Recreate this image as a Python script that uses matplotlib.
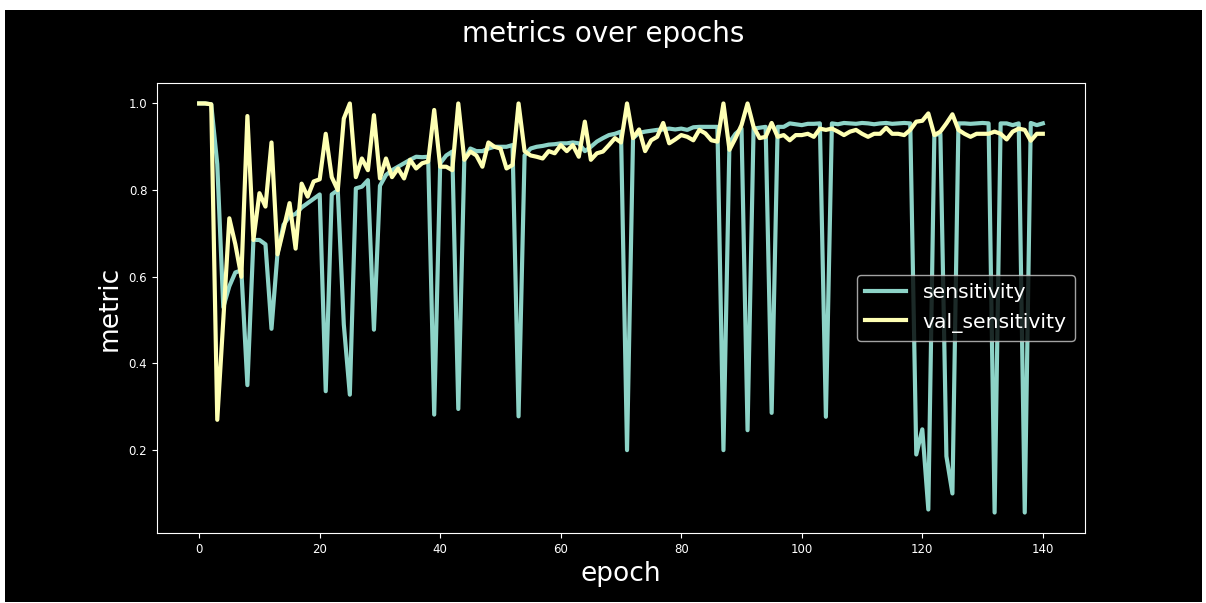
import matplotlib

matplotlib.use("Agg")
import matplotlib.pyplot as plt
from matplotlib.patches import Rectangle

# per-epoch metrics
epochs = list(range(141))

sensitivity = [
    1.0, 1.0, 0.998, 0.86, 0.53, 0.578, 0.61, 0.615, 0.35, 0.685,
    0.685, 0.675, 0.48, 0.655, 0.72, 0.74, 0.745, 0.76, 0.77, 0.78,
    0.79, 0.336, 0.79, 0.80, 0.49, 0.328, 0.804, 0.808, 0.823, 0.478,
    0.81, 0.835, 0.846, 0.854, 0.862, 0.87, 0.877, 0.876, 0.877, 0.282,
    0.862, 0.88, 0.889, 0.295, 0.87, 0.896, 0.89, 0.89, 0.896, 0.90,
    0.90, 0.90, 0.904, 0.278, 0.88, 0.896, 0.90, 0.902, 0.905, 0.906,
    0.908, 0.908, 0.91, 0.908, 0.89, 0.90, 0.912, 0.92, 0.927, 0.93,
    0.935, 0.20, 0.92, 0.932, 0.935, 0.937, 0.939, 0.94, 0.942, 0.94,
    0.942, 0.939, 0.945, 0.946, 0.946, 0.946, 0.946, 0.20, 0.91, 0.93,
    0.942, 0.246, 0.942, 0.944, 0.946, 0.286, 0.946, 0.946, 0.954, 0.952,
    0.95, 0.953, 0.953, 0.954, 0.277, 0.954, 0.952, 0.955, 0.954, 0.953,
    0.955, 0.954, 0.952, 0.954, 0.955, 0.953, 0.954, 0.955, 0.954, 0.19,
    0.248, 0.063, 0.927, 0.93, 0.186, 0.10, 0.954, 0.954, 0.953, 0.954,
    0.955, 0.954, 0.056, 0.954, 0.954, 0.95, 0.954, 0.056, 0.955, 0.95,
    0.954,
]

val_sensitivity = [
    1.0, 1.0, 0.998, 0.27, 0.50, 0.735, 0.675, 0.60, 0.971, 0.685,
    0.793, 0.762, 0.91, 0.652, 0.71, 0.77, 0.665, 0.815, 0.785, 0.82,
    0.825, 0.93, 0.83, 0.80, 0.965, 1.0, 0.83, 0.873, 0.846, 0.973,
    0.827, 0.873, 0.83, 0.85, 0.827, 0.87, 0.85, 0.862, 0.866, 0.985,
    0.854, 0.854, 0.846, 1.0, 0.87, 0.889, 0.88, 0.854, 0.91, 0.90,
    0.896, 0.85, 0.858, 1.0, 0.89, 0.88, 0.877, 0.873, 0.89, 0.885,
    0.904, 0.89, 0.904, 0.877, 0.958, 0.87, 0.885, 0.889, 0.904, 0.92,
    0.91, 1.0, 0.92, 0.94, 0.89, 0.915, 0.923, 0.955, 0.908, 0.917,
    0.927, 0.923, 0.915, 0.939, 0.931, 0.915, 0.912, 1.0, 0.893, 0.92,
    0.95, 1.0, 0.946, 0.92, 0.923, 0.955, 0.923, 0.927, 0.915, 0.927,
    0.927, 0.93, 0.923, 0.942, 0.939, 0.942, 0.935, 0.927, 0.935, 0.939,
    0.93, 0.923, 0.93, 0.93, 0.944, 0.93, 0.93, 0.927, 0.939, 0.958,
    0.96, 0.977, 0.927, 0.935, 0.954, 0.975, 0.939, 0.93, 0.923, 0.93,
    0.93, 0.93, 0.935, 0.93, 0.917, 0.935, 0.942, 0.939, 0.914, 0.93,
    0.93,
]

plt.style.use("dark_background")

W, H = 1206, 603
fig = plt.figure(figsize=(W / 100, H / 100), dpi=100, facecolor="white")

# the notebook screenshot has a thin white margin round the dark figure
fig.add_artist(
    Rectangle(
        (5 / W, 1 / H), 1197 / W, 592 / H,
        transform=fig.transFigure, facecolor="black", edgecolor="none", zorder=-10,
    )
)

ax = fig.add_axes([157 / W, 70 / H, 928 / W, 450 / H])
ax.set_facecolor("black")

ax.plot(epochs, sensitivity, linewidth=3, label="sensitivity")
ax.plot(epochs, val_sensitivity, linewidth=3, label="val_sensitivity")

ax.tick_params(labelsize=8.5)
ax.set_xlabel("epoch", fontsize=19)
ax.set_ylabel("metric", fontsize=19)
ax.xaxis.set_label_coords(0.5, -0.062)
ax.yaxis.set_label_coords(-0.037, 0.5)

ax.legend(loc="center right", fontsize=14.7)

fig.text(0.5, 0.943, "metrics over epochs", ha="center", va="center", fontsize=20, color="white")

fig.savefig("out.png", dpi=100, facecolor=fig.get_facecolor())
plt.close(fig)
